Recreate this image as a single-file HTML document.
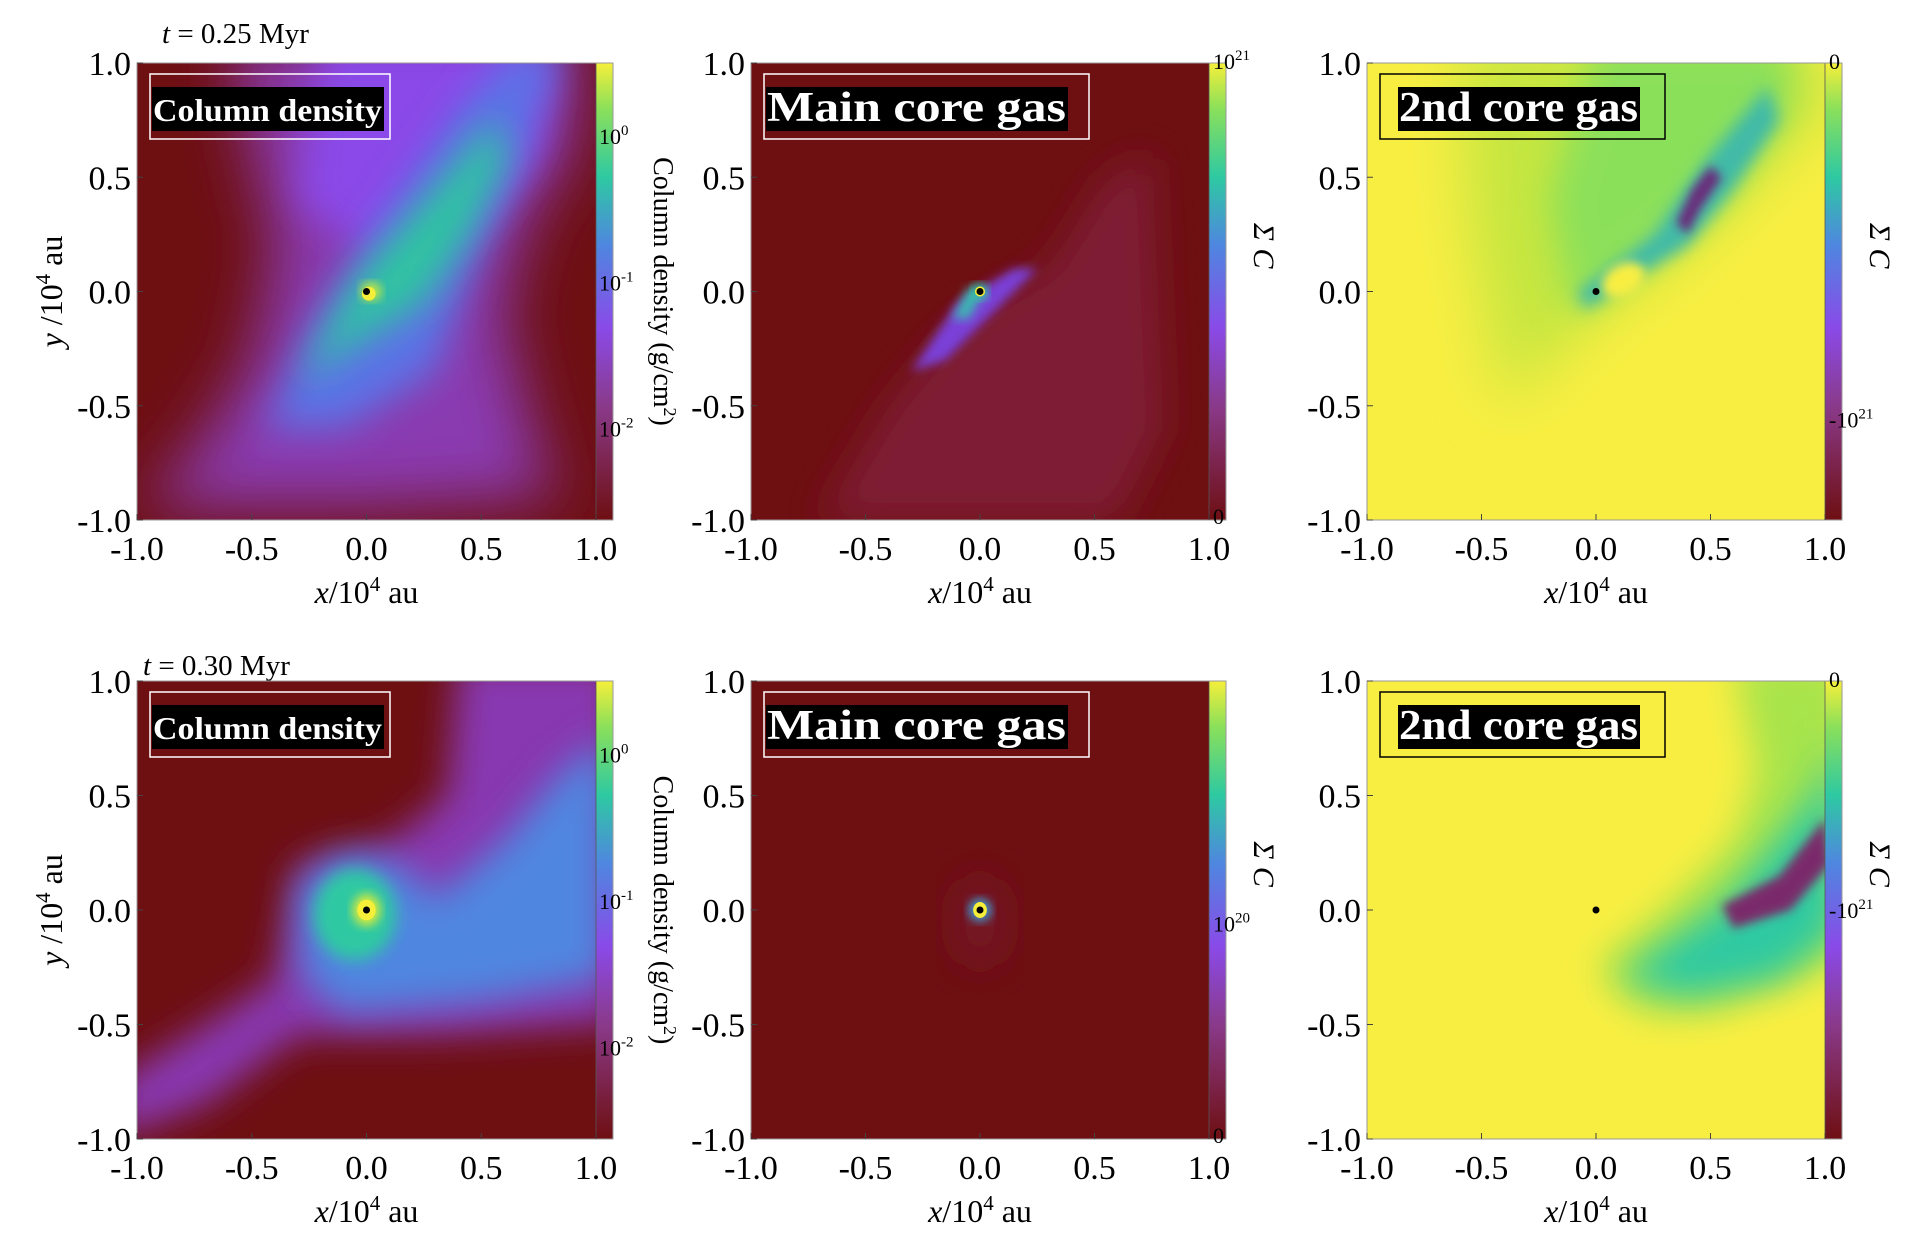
<!DOCTYPE html>
<html><head><meta charset="utf-8"><style>
html,body{margin:0;padding:0;background:#fff;width:1930px;height:1239px;overflow:hidden}
svg{display:block}
text{font-family:"Liberation Serif",serif;fill:#000}
</style></head><body>
<svg id="fig" width="1930" height="1239" viewBox="0 0 1930 1239" xmlns="http://www.w3.org/2000/svg" font-family="Liberation Serif, serif">
<defs>
<linearGradient id="cbGrad" x1="0" y1="1" x2="0" y2="0">
<stop offset="0" stop-color="#6e0f12"/><stop offset="0.25" stop-color="#8a3a8a"/><stop offset="0.42" stop-color="#8a4ae8"/><stop offset="0.6" stop-color="#4f86e0"/><stop offset="0.75" stop-color="#2ec9a2"/><stop offset="0.9" stop-color="#8be05a"/><stop offset="1" stop-color="#f5ef3a"/>
</linearGradient>
<linearGradient id="cbGradR" x1="0" y1="0" x2="0" y2="1">
<stop offset="0" stop-color="#f5ef3a"/><stop offset="0.1" stop-color="#8be05a"/><stop offset="0.25" stop-color="#2ec9a2"/><stop offset="0.4" stop-color="#4f86e0"/><stop offset="0.58" stop-color="#8a4ae8"/><stop offset="0.75" stop-color="#8a3a8a"/><stop offset="1" stop-color="#6e0f12"/>
</linearGradient>
<filter id="b5" x="-20%" y="-20%" width="140%" height="140%"><feGaussianBlur stdDeviation="5"/></filter>
<filter id="b8" x="-20%" y="-20%" width="140%" height="140%"><feGaussianBlur stdDeviation="8"/></filter>
<filter id="b20" x="-30%" y="-30%" width="160%" height="160%"><feGaussianBlur stdDeviation="18"/></filter>
<filter id="b35" x="-30%" y="-30%" width="160%" height="160%"><feGaussianBlur stdDeviation="30"/></filter>
</defs>
</svg>
<script>
const xTicks=[-1.0,-0.5,0.0,0.5,1.0];
const yTicks=[-1.0,-0.5,0.0,0.5,1.0];
const tickText=["-1.0","-0.5","0.0","0.5","1.0"];
const cbLogLabels=["10","10","10"];
const cbLogExp=["0","-1","-2"];
const cbLogPos=[0.84,0.52,0.2];
const timeLabels=["0.25","0.30"];
const NS="http://www.w3.org/2000/svg";
const svg=document.getElementById('fig');
function el(tag,attrs,parent){const e=document.createElementNS(NS,tag);for(const k in attrs)e.setAttribute(k,attrs[k]);(parent||svg).appendChild(e);return e;}
const cols=[{x0:137,x1:596},{x0:751,x1:1209},{x0:1367,x1:1825}];
const rows=[{y0:63,y1:520},{y0:681,y1:1139}];
function mk(c,r){const C=cols[c],R=rows[r];return {x0:C.x0,x1:C.x1,y0:R.y0,y1:R.y1,sx:v=>C.x0+(v+1)/2*(C.x1-C.x0),sy:v=>R.y1-(v+1)/2*(R.y1-R.y0)};}
function poly(P,pts,fill,filt,g,op){const d=pts.map(p=>P.sx(p[0]).toFixed(1)+','+P.sy(p[1]).toFixed(1)).join(' ');const e=el('polygon',{points:d,fill:fill},g);if(filt)e.setAttribute('filter','url(#'+filt+')');if(op)e.setAttribute('opacity',op);return e;}
function ell(P,cx,cy,rx,ry,fill,filt,g,rot){const w=(P.x1-P.x0)/2,h=(P.y1-P.y0)/2;const e=el('ellipse',{cx:P.sx(cx),cy:P.sy(cy),rx:rx*w,ry:ry*h,fill:fill},g);if(filt)e.setAttribute('filter','url(#'+filt+')');if(rot)e.setAttribute('transform','rotate('+rot+' '+P.sx(cx)+' '+P.sy(cy)+')');return e;}
let pid=0;
function panel(c,r,bg,cbKind,name){
  const P=mk(c,r);pid++;
  const g=el('g',{});
  const cp=el('clipPath',{id:'cp'+pid},g);el('rect',{x:P.x0,y:P.y0,width:P.x1-P.x0,height:P.y1-P.y0},cp);
  const img=el('g',{'clip-path':'url(#cp'+pid+')'},g);
  
  el('rect',{x:P.x0,y:P.y0,width:P.x1-P.x0,height:P.y1-P.y0,fill:bg},img);
  P.img=img;
  const cbx=P.x1,cbw=17;
  const cb=el('rect',{x:cbx,y:P.y0,width:cbw,height:P.y1-P.y0,fill:cbKind==='neg'?'url(#cbGradR)':'url(#cbGrad)',stroke:'#555','stroke-width':0.8},g);
  
  el('rect',{x:P.x0,y:P.y0,width:P.x1-P.x0+cbw,height:P.y1-P.y0,fill:'none',stroke:'#999','stroke-width':1},g);
  xTicks.forEach((v,i)=>{const t=el('text',{x:P.sx(v),y:P.y1+40,'font-size':34,'text-anchor':'middle'},g);t.textContent=tickText[i];
    el('line',{x1:P.sx(v),x2:P.sx(v),y1:P.y1,y2:P.y1-6,stroke:'#444','stroke-width':1},g);});
  yTicks.forEach((v,i)=>{const t=el('text',{x:P.x0-6,y:P.sy(v)+12,'font-size':34,'text-anchor':'end'},g);t.textContent=tickText[i];
    el('line',{x1:P.x0,x2:P.x0+6,y1:P.sy(v),y2:P.sy(v),stroke:'#444','stroke-width':1},g);});
  const xt=el('text',{x:(P.x0+P.x1)/2,y:P.y1+83,'font-size':32,'text-anchor':'middle'},g);
  xt.innerHTML='<tspan font-style="italic">x</tspan>/10<tspan dy="-12" font-size="21">4</tspan><tspan dy="12"> au</tspan>';
  
  if(c===0){const yt=el('text',{x:0,y:0,'font-size':32,'text-anchor':'middle',transform:'translate(62,'+((P.y0+P.y1)/2)+') rotate(-90)'},g);
    yt.innerHTML='<tspan font-style="italic">y</tspan> /10<tspan dy="-12" font-size="21">4</tspan><tspan dy="12"> au</tspan>';
    }
  const lb=el('g',{},g);
  P.lb=lb;P.cbx=cbx;P.g=g;
  return P;
}
function labelBox(P,text,boxW,stroke,tw){
  const bx=P.x0+13,by=P.y0+11;
  el('rect',{x:bx,y:by,width:boxW,height:65,fill:'none',stroke:stroke,'stroke-width':1.5},P.lb);
  const off=stroke==='#fff'?2:18;
  el('rect',{x:bx+off,y:by+13,width:tw,height:44,fill:'#000'},P.lb);
  const t=el('text',{x:bx+off+1,y:by+47,'font-size':text==='Column density'?32:42,'font-weight':'bold',textLength:tw-3,lengthAdjust:'spacingAndGlyphs'},P.lb);
  t.style.fill='#fff';t.textContent=text;
}
function star(P){el('circle',{cx:P.sx(0),cy:P.sy(0),r:3.5,fill:'#000'},P.img);}
function cbLog(P){cbLogPos.forEach((f,i)=>{const t=el('text',{x:P.cbx+3,y:P.y1-f*(P.y1-P.y0)+8,'font-size':22},P.g);t.innerHTML=cbLogLabels[i]+'<tspan dy="-9" font-size="15">'+cbLogExp[i]+'</tspan>';});
  const yt=el('text',{x:0,y:0,'font-size':28,'text-anchor':'middle',transform:'translate('+(P.cbx+58)+','+((P.y0+P.y1)/2)+') rotate(90)'},P.g);
  yt.innerHTML='Column density (g/cm<tspan dy="-10" font-size="18">2</tspan><tspan dy="10">)</tspan>';}
function cbSig(P,top,bot,mid,midF){
  const a=el('text',{x:P.cbx+4,y:P.y0+6,'font-size':22},P.g);a.innerHTML=top;
  const b=el('text',{x:P.cbx+4,y:P.y1+4,'font-size':22},P.g);b.innerHTML=bot;
  if(mid){const m=el('text',{x:P.cbx+4,y:P.y1-midF*(P.y1-P.y0)+8,'font-size':22},P.g);m.innerHTML=mid;}
  const s=el('text',{x:0,y:0,'font-size':30,'font-style':'italic','text-anchor':'middle',transform:'translate('+(P.cbx+45)+','+(P.y0+(P.y1-P.y0)*0.4)+') rotate(90)'},P.g);s.textContent='Σ C';
  
}
[0,1].forEach(r=>{const t=el('text',{x:r===0?162:143,y:r===0?43:675,'font-size':29});t.innerHTML='<tspan font-style="italic">t</tspan> = '+timeLabels[r]+' Myr';});

const DR='#6e0f12';
// Panel 1
let P=panel(0,0,DR,'log','column-density-t025');
poly(P,[[-1.0,-0.95],[-0.75,-0.7],[-0.5,-0.3],[-0.4,0.2],[-0.5,0.6],[-0.6,1.1],[0.95,1.1],[0.9,0.6],[0.7,0.3],[0.6,-0.1],[0.75,-0.7],[0.85,-0.9],[0.0,-0.95]],'#8a3ab0','b35',P.img);
poly(P,[[-0.3,0.4],[-0.2,1.1],[0.8,1.1],[0.75,0.6],[0.5,0.3],[0.1,0.1]],'#8a4ae8','b20',P.img);
poly(P,[[-0.45,-0.6],[-0.2,-0.1],[0.1,0.35],[0.45,0.85],[0.65,1.05],[0.85,1.05],[0.65,0.55],[0.45,0.1],[0.3,-0.35],[-0.1,-0.6]],'#5b72e6','b20',P.img);
poly(P,[[-0.3,-0.4],[-0.05,0.05],[0.3,0.45],[0.55,0.75],[0.62,0.6],[0.45,0.25],[0.25,-0.05],[0.0,-0.2]],'#2ec5a0','b20',P.img);
ell(P,0.02,0.0,0.045,0.04,'#c8e840','b5',P.img);ell(P,0.01,-0.01,0.03,0.03,'#f5ef3a',null,P.img);star(P);
labelBox(P,'Column density',240,'#fff',232);cbLog(P);
// Panel 2
P=panel(1,0,DR,'lin','main-core-gas-t025');
poly(P,[[-0.7,-1.0],[-0.4,-0.5],[-0.15,-0.2],[0.1,0.0],[0.3,0.1],[0.55,0.5],[0.75,0.6],[0.8,-0.6],[0.6,-1.0]],'#7f1e36','b20',P.img);
poly(P,[[-0.3,-0.35],[-0.1,-0.05],[0.15,0.1],[0.25,0.1],[0.1,-0.05],[-0.15,-0.3]],'#7a3fd8','b5',P.img);
poly(P,[[-0.12,-0.12],[-0.05,0.02],[0.02,0.0],[-0.05,-0.12]],'#3ab8b0','b5',P.img);
ell(P,0,0,0.035,0.035,'#2ec9a2','b5',P.img);ell(P,0,0,0.022,0.022,'#f5ef3a',null,P.img);star(P);
labelBox(P,'Main core gas',325,'#fff',302);
cbSig(P,'10<tspan dy="-9" font-size="15">21</tspan>','0');
// Panel 3
P=panel(2,0,'#f8ee42','neg','second-core-gas-t025');
poly(P,[[-0.6,1.1],[0.9,1.1],[1.1,0.9],[0.4,0.2],[0.0,-0.1],[-0.4,-0.5],[-0.55,0.3]],'#c4e640','b35',P.img);
poly(P,[[-0.2,0.4],[0.0,1.1],[0.85,1.1],[0.85,0.8],[0.55,0.4],[0.3,0.2],[0.1,0.05],[-0.1,-0.1]],'#8be05a','b20',P.img);
poly(P,[[-0.08,0.0],[0.25,0.25],[0.5,0.6],[0.75,0.9],[0.8,0.75],[0.6,0.45],[0.4,0.2],[0.15,0.05],[-0.05,-0.08]],'#3fbaa8','b8',P.img);
poly(P,[[0.35,0.3],[0.42,0.45],[0.5,0.55],[0.55,0.5],[0.45,0.35],[0.4,0.25]],'#6a2a7a','b5',P.img);
ell(P,0.12,0.05,0.1,0.07,'#f8ee42','b5',P.img,-30);star(P);
labelBox(P,'2nd core gas',285,'#000',242);
cbSig(P,'0','','-10<tspan dy="-9" font-size="15">21</tspan>',0.22);
// Panel 4
P=panel(0,1,DR,'log','column-density-t030');
poly(P,[[-1.1,-1.0],[-1.1,-0.75],[-0.7,-0.5],[-0.4,-0.3],[-0.3,0.2],[0.1,0.3],[0.35,0.5],[0.4,1.1],[1.1,1.1],[1.1,-0.5],[0.3,-0.55],[-0.3,-0.55],[-0.7,-0.85]],'#8838b0','b20',P.img);
poly(P,[[-0.28,-0.3],[-0.3,0.1],[-0.1,0.25],[0.15,0.2],[0.3,0.05],[0.6,0.3],[0.85,0.6],[1.05,0.75],[1.05,-0.3],[0.5,-0.4],[-0.1,-0.45]],'#4f86e0','b20',P.img);
ell(P,-0.05,-0.02,0.18,0.2,'#2ec9a2','b8',P.img);
ell(P,0.0,0.0,0.06,0.07,'#d8ea3a','b5',P.img);ell(P,0.0,0.0,0.04,0.045,'#f5ef3a',null,P.img);star(P);
labelBox(P,'Column density',240,'#fff',232);cbLog(P);
// Panel 5
P=panel(1,1,DR,'lin','main-core-gas-t030');
ell(P,0,-0.05,0.12,0.2,'#761628','b20',P.img);
ell(P,0,0,0.05,0.05,'#3a9bd8','b5',P.img);ell(P,0,0,0.03,0.035,'#f5ef3a',null,P.img);star(P);
labelBox(P,'Main core gas',325,'#fff',302);
cbSig(P,'','0','10<tspan dy="-9" font-size="15">20</tspan>',0.47);
// Panel 6
P=panel(2,1,'#f8ee42','neg','second-core-gas-t030');
poly(P,[[0.2,-0.45],[0.5,-0.45],[0.9,-0.3],[1.1,-0.2],[1.1,1.1],[0.6,1.1],[0.7,0.6],[0.6,0.3],[0.3,0.0],[0.0,-0.25]],'#a8e44c','b20',P.img);
poly(P,[[0.1,-0.3],[0.4,-0.38],[0.8,-0.3],[1.05,-0.1],[1.05,0.75],[0.95,0.5],[0.75,0.25],[0.55,0.02],[0.3,-0.15]],'#2ec9a2','b20',P.img);
poly(P,[[0.55,0.02],[0.8,0.15],[1.0,0.4],[1.02,0.2],[0.85,0.0],[0.6,-0.08]],'#7a2a6a','b5',P.img);
star(P);
labelBox(P,'2nd core gas',285,'#000',242);
cbSig(P,'0','','-10<tspan dy="-9" font-size="15">21</tspan>',0.5);
</script>
</body></html>
